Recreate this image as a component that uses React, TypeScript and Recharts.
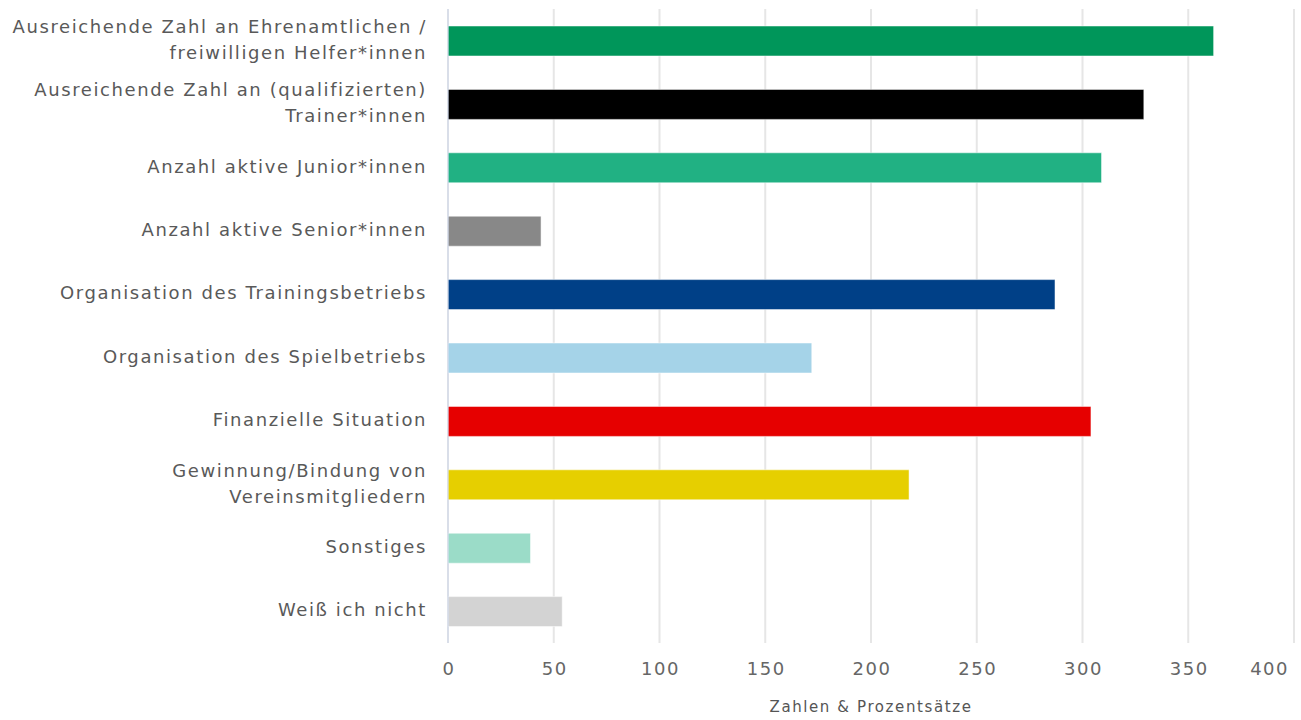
import React from 'react';
import { BarChart, Bar, XAxis, YAxis, CartesianGrid, Cell } from 'recharts';

const categories = [
  'Ausreichende Zahl an Ehrenamtlichen /\nfreiwilligen Helfer*innen',
  'Ausreichende Zahl an (qualifizierten)\nTrainer*innen',
  'Anzahl aktive Junior*innen',
  'Anzahl aktive Senior*innen',
  'Organisation des Trainingsbetriebs',
  'Organisation des Spielbetriebs',
  'Finanzielle Situation',
  'Gewinnung/Bindung von\nVereinsmitgliedern',
  'Sonstiges',
  'Weiß ich nicht',
];
const values = [362, 329, 309, 44, 287, 172, 304, 218, 39, 54];
const colors = ['#00965a', '#000000', '#21b183', '#888888', '#004087', '#a5d3e8', '#e60000', '#e6cf00', '#9bdcc8', '#d3d3d3'];
const xTicks = [0, 50, 100, 150, 200, 250, 300, 350, 400];

const FONT = '"DejaVu Sans", sans-serif';

const YTick = (props: any) => {
  const { y, payload } = props;
  const lines: string[] = String(payload.value).split('\n');
  const lh = 26;
  const start = -((lines.length - 1) * lh) / 2;
  const x = 427;
  return (
    <text x={x} y={y} textAnchor="end" fill="#595959" fontSize={18} fontFamily={FONT} letterSpacing={1.6}>
      {lines.map((l, i) => (
        <tspan key={i} x={x} dy={i === 0 ? start + 5 : lh}>{l}</tspan>
      ))}
    </text>
  );
};

const XTick = (props: any) => {
  const { x, y, payload } = props;
  const last = payload.value === xTicks[xTicks.length - 1];
  return (
    <text x={last ? x : x + 1} y={y} dy={10} textAnchor={last ? 'end' : 'middle'} fill="#666" fontSize={18}
      fontFamily={FONT} letterSpacing={1.5}>
      {payload.value}
    </text>
  );
};

export default function App() {
  const data = categories.map((name, i) => ({ name, value: values[i], color: colors[i] }));
  return (
    <div style={{ position: 'absolute', left: 0, top: 0, width: 1301, height: 720, background: '#fff' }}>
      <BarChart width={1301} height={720} data={data} layout="vertical"
        margin={{ top: 9, right: 7, left: 0, bottom: 0 }} barSize={30}>
        <CartesianGrid horizontal={false} stroke="#e6e6e6" strokeWidth={2} />
        <XAxis type="number" domain={[0, 400]} ticks={xTicks} height={77}
          axisLine={false} tickLine={false}
          tick={<XTick />} tickMargin={16}
          label={{ value: 'Zahlen & Prozentsätze', position: 'insideBottom', offset: 8, fill: '#555', fontSize: 15, fontFamily: FONT, letterSpacing: 1.6 }} />
        <YAxis type="category" dataKey="name" width={448} axisLine={{ stroke: '#ccd6eb' }}
          tickLine={false} tick={<YTick />} interval={0} />
        <Bar dataKey="value" isAnimationActive={false} stroke="rgba(255,255,255,0.5)" strokeWidth={1}>
          {data.map((d, i) => (
            <Cell key={i} fill={d.color} />
          ))}
        </Bar>
      </BarChart>
    </div>
  );
}
